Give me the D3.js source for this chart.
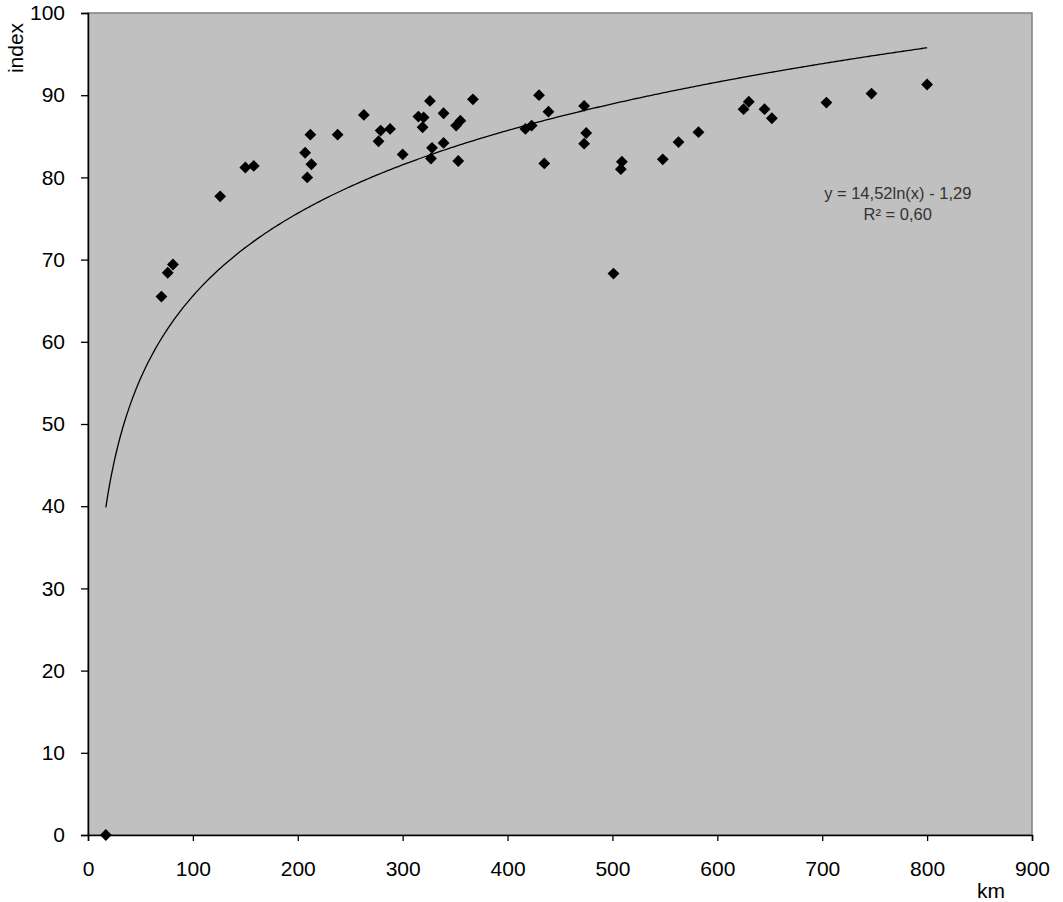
<!DOCTYPE html>
<html>
<head>
<meta charset="utf-8">
<script src="https://cdn.jsdelivr.net/npm/d3@7"></script>
<style>
  body { margin: 0; background: #fff; }
  text { font-family: "Liberation Sans", Arial, sans-serif; }
</style>
</head>
<body>
<div id="chart"></div>
<script>
/*global d3*/
// distance (km) and index values
var km = [17, 70, 76, 81, 126, 150, 158, 207, 209, 213, 212, 238, 263, 277, 279, 288, 300,
          315, 320, 319, 326, 327, 328, 339, 339, 351, 355, 353, 367, 417, 423, 430, 435,
          439, 473, 475, 473, 501, 508, 509, 548, 563, 582, 625, 630, 645, 652, 704, 747, 800];
var index = [0, 65.5, 68.4, 69.4, 77.7, 81.2, 81.4, 83.0, 80.0, 81.6, 85.2, 85.2, 87.6, 84.4, 85.7, 85.9, 82.8,
             87.4, 87.3, 86.1, 89.3, 82.3, 83.6, 87.8, 84.2, 86.3, 86.9, 82.0, 89.5, 85.9, 86.3, 90.0, 81.7,
             88.0, 88.7, 85.4, 84.1, 68.3, 81.0, 81.9, 82.2, 84.3, 85.5, 88.3, 89.2, 88.3, 87.2, 89.1, 90.2, 91.3];
var xTicks = [0, 100, 200, 300, 400, 500, 600, 700, 800, 900];
var yTicks = [0, 10, 20, 30, 40, 50, 60, 70, 80, 90, 100];
// logarithmic trendline shown on the chart
var trendA = 14.52, trendB = -1.29, trendFrom = 17, trendTo = 800;
var trendLabel = ["y = 14,52ln(x) - 1,29", "R\u00b2 = 0,60"];

var donnees = km.map(function(d, i) { return { km: d, index: index[i] }; });

var totalWidth = 1063,
    totalHeight = 902,
    margin = {top: 13, right: 31, bottom: 67, left: 88},
    width = totalWidth - margin.left - margin.right,
    height = totalHeight - margin.top - margin.bottom;

var x = d3.scaleLinear().domain([0, 900]).range([0, width]),
    y = d3.scaleLinear().domain([0, 100]).range([height, 0]);

var svg = d3.select("#chart").append("svg")
    .attr("width", totalWidth)
    .attr("height", totalHeight)
  .append("g")
    .attr("transform", "translate(" + margin.left + "," + margin.top + ")");

svg.append("rect")
    .attr("width", width)
    .attr("height", height)
    .attr("fill", "#c0c0c0")
    .attr("stroke", "#808080")
    .attr("stroke-width", 1.5);

var ax = svg.append("g")
    .attr("transform", "translate(0," + height + ")")
    .call(d3.axisBottom(x).tickValues(xTicks).tickSize(6).tickPadding(20));
var ay = svg.append("g")
    .call(d3.axisLeft(y).tickValues(yTicks).tickSize(7).tickPadding(16));
svg.selectAll(".tick text")
    .attr("font-family", "Liberation Sans, Arial, sans-serif")
    .attr("font-size", 21)
    .attr("fill", "#000");
svg.selectAll(".domain").attr("stroke-width", 1.5);
svg.selectAll(".tick line").attr("stroke-width", 1.3);

// trendline
var ligne = d3.line()
    .x(function(d) { return x(d); })
    .y(function(d) { return y(trendA * Math.log(d) + trendB); });
svg.append("path")
    .datum(d3.range(trendFrom, trendTo, 2).concat([trendTo]))
    .attr("fill", "none")
    .attr("stroke", "#000")
    .attr("stroke-width", 1.3)
    .attr("d", ligne);

// points
svg.append("g")
    .selectAll("path")
    .data(donnees)
    .join("path")
      .attr("transform", function(d) { return "translate(" + x(d.km) + "," + y(d.index) + ") rotate(45)"; })
      .attr("d", d3.symbol().type(d3.symbolSquare).size(70))
      .attr("fill", "#000");

svg.append("g")
    .selectAll("text")
    .data(trendLabel)
    .join("text")
      .attr("x", x(772))
      .attr("y", function(d, i) { return y(77.4) + i * 21; })
      .attr("text-anchor", "middle")
      .attr("font-size", 16.5)
      .attr("fill", "#333")
      .text(function(d) { return d; });

svg.append("text")
    .attr("transform", "translate(-65," + 35 + ") rotate(-90)")
    .attr("text-anchor", "middle")
    .attr("font-size", 21)
    .text("index");

svg.append("text")
    .attr("x", x(861))
    .attr("y", height + 63)
    .attr("text-anchor", "middle")
    .attr("font-size", 21)
    .text("km");
</script>
</body>
</html>
